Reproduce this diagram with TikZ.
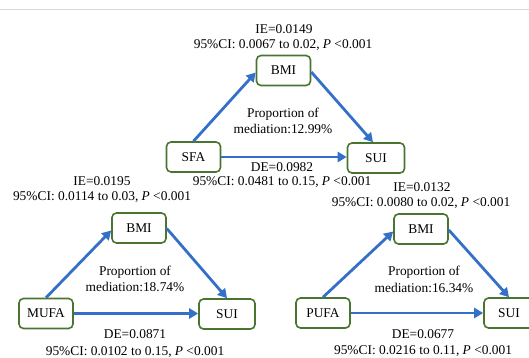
\documentclass[tikz,border=0pt]{standalone}
\usepackage{fontspec}
\setmainfont{Liberation Serif}
\usetikzlibrary{arrows.meta}
\definecolor{boxgreen}{HTML}{4A7530}
\definecolor{arrblue}{HTML}{3570C8}
\definecolor{topline}{HTML}{D9D9D9}
\begin{document}
\begin{tikzpicture}[x=1pt,y=-1pt,
  box/.style={draw=boxgreen,line width=1.6pt,rounded corners=4.5pt,minimum width=54pt,minimum height=30pt,fill=white,inner sep=0pt,font=\fontsize{13.4}{16}\selectfont},
  lbl/.style={inner sep=0pt,font=\fontsize{13.4}{16}\selectfont},
  arr/.style={draw=arrblue,line width=2.8pt,-{Triangle[length=9pt,width=10pt]}}]
\useasboundingbox (0,0) rectangle (529,358);
\clip (0,0) rectangle (529,358);
\draw[topline,line width=1pt] (0,10) -- (529,10);
% top
\node[box] (bmiA) at (283.5,70.5) {BMI};
\node[box] (sfa) at (193.5,157) {SFA};
\node[box,minimum width=57pt] (suiA) at (376,158) {SUI};
\node[lbl] (ieA) at (284,29) {IE=0.0149};
\node[lbl] (ciA) at (283,45) {95\%CI: 0.0067 to 0.02, \textit{P} <0.001};
\node[lbl] (prA) at (283,114) {Proportion of};
\node[lbl] (mdA) at (283,129) {mediation:12.99\%};
\node[lbl] (deA) at (282,167) {DE=0.0982};
\node[lbl] (cdA) at (282,182) {95\%CI: 0.0481 to 0.15, \textit{P} <0.001};
\draw[arr] (sfa.north) -- ([yshift=-2pt]bmiA.west);
\draw[arr] ([yshift=-1.5pt]bmiA.east) -- ([xshift=-3pt]suiA.north);
\draw[arr] (sfa.east) -- (suiA.west |- sfa.east);
% bottom left
\node[box] (bmiB) at (139,228) {BMI};
\node[box] (mufa) at (46,313.5) {MUFA};
\node[box,minimum width=56pt] (suiB) at (227,314) {SUI};
\node[lbl] (ieB) at (102,181) {IE=0.0195};
\node[lbl] (ciB) at (102,197) {95\%CI: 0.0114 to 0.03, \textit{P} <0.001};
\node[lbl] (prB) at (135,272) {Proportion of};
\node[lbl] (mdB) at (135,287) {mediation:18.74\%};
\node[lbl] (deB) at (135,334) {DE=0.0871};
\node[lbl] (cdB) at (135,352) {95\%CI: 0.0102 to 0.15, \textit{P} <0.001};
\draw[arr] (mufa.north) -- ([yshift=-2.5pt]bmiB.west);
\draw[arr] ([yshift=-0.5pt]bmiB.east) -- (suiB.north);
\draw[arr] (mufa.east) -- (suiB.west |- mufa.east);
% bottom right
\node[box] (bmiC) at (421,229) {BMI};
\node[box] (pufa) at (323,313) {PUFA};
\node[box,minimum width=50pt] (suiC) at (509,313) {SUI};
\node[lbl] (ieC) at (422,187) {IE=0.0132};
\node[lbl] (ciC) at (421,203) {95\%CI: 0.0080 to 0.02, \textit{P} <0.001};
\node[lbl] (prC) at (424,272) {Proportion of};
\node[lbl] (mdC) at (424,288) {mediation:16.34\%};
\node[lbl] (deC) at (423,334) {DE=0.0677};
\node[lbl] (cdC) at (423,351) {95\%CI: 0.0216 to 0.11, \textit{P} <0.001};
\draw[arr] (pufa.north) -- ([yshift=-2.5pt]bmiC.west);
\draw[arr] ([yshift=-1pt]bmiC.east) -- (suiC.north);
\draw[arr] (pufa.east) -- (suiC.west |- pufa.east);
\end{tikzpicture}
\end{document}
